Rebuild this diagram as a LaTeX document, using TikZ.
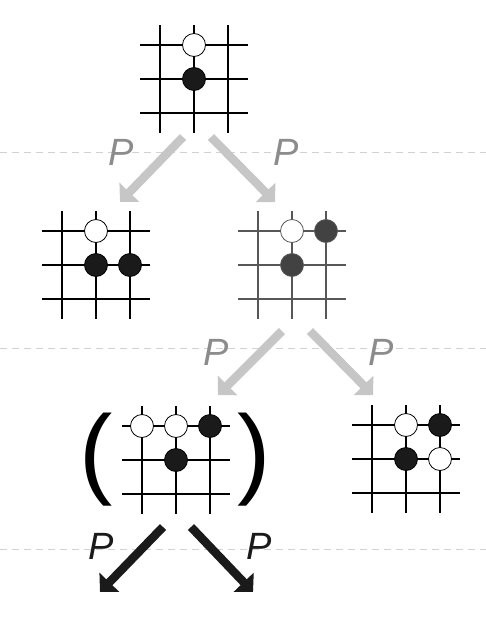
\documentclass[tikz,border=0pt]{standalone}
\usepackage{fontspec}
\setsansfont{Liberation Sans}
\usetikzlibrary{arrows.meta}

\definecolor{movegray}{HTML}{C6C6C6}
\definecolor{lblgray}{HTML}{8C8C8C}
\definecolor{sepgray}{HTML}{D2D2D2}
\definecolor{dimline}{HTML}{575757}
\definecolor{dimstone}{HTML}{424242}
\definecolor{stoneblack}{HTML}{1A1A1A}

\begin{document}
\begin{tikzpicture}[x=1pt, y=-1pt,
  board/.pic={
    \foreach \k in {-34,0,34} {
      \draw[line width=1.8pt] (-54,\k) -- (54,\k);
      \draw[line width=1.8pt] (\k,-54) -- (\k,54);
    }
  },
  wst/.style={circle, draw, fill=white, line width=0.8pt,
              minimum size=23pt, inner sep=0pt},
  bst/.style={circle, draw, fill=stoneblack, line width=0.8pt,
              minimum size=23pt, inner sep=0pt},
  gst/.style={bst, draw=dimline, fill=dimstone},
  gwst/.style={wst, draw=dimline},
  move/.style={draw=movegray, line width=8.5pt,
               -{Triangle[length=13.5pt,width=27pt]}},
  lastmove/.style={move, draw=stoneblack},
  lblP/.style={font=\fontsize{38}{38}\selectfont\sffamily\itshape,
               inner sep=0pt},
  sep/.style={draw=sepgray, line width=1pt, dash pattern=on 7pt off 5pt},
  paren/.style={font=\fontsize{100}{100}\selectfont\sffamily, inner sep=0pt}
]
  \useasboundingbox (0,0) rectangle (486,632);

  % separators
  \draw[sep] (0,152) -- (486,152);
  \draw[sep] (0,348) -- (486,348);
  \draw[sep] (0,549) -- (486,549);

  % boards
  \pic (root)  at (194,79)  {board};
  \pic (left)  at (96,265)  {board};
  \pic[dimline] (right) at (292,265) {board};
  \pic (cand)  at (176,460) {board};
  \pic (other) at (406,459) {board};

  % stones
  \node[wst]  (r1) at (194,45)  {};
  \node[bst]  (r2) at (194,79)  {};

  \node[wst]  (l1) at (96,231)  {};
  \node[bst]  (l2) at (96,265)  {};
  \node[bst]  (l3) at (130,265) {};

  \node[gwst] (m1) at (292,231) {};
  \node[gst]  (m2) at (326,231) {};
  \node[gst]  (m3) at (292,265) {};

  \node[wst]  (c1) at (142,426) {};
  \node[wst]  (c2) at (176,426) {};
  \node[bst]  (c3) at (210,426) {};
  \node[bst]  (c4) at (176,460) {};

  \node[wst]  (o1) at (406,425) {};
  \node[bst]  (o2) at (440,425) {};
  \node[bst]  (o3) at (406,459) {};
  \node[wst]  (o4) at (440,459) {};

  \node[paren] (lp) at (96,460)  {(};
  \node[paren] (rp) at (254,460) {)};

  % moves
  \coordinate (rootL) at (183,137);
  \coordinate (rootR) at (211,137);
  \coordinate (toL)   at (120,202);
  \coordinate (toR)   at (275,202);
  \draw[move] (rootL) -- (toL);
  \draw[move] (rootR) -- (toR);

  \coordinate (rightL) at (282,331);
  \coordinate (rightR) at (310,331);
  \coordinate (toC)    at (218,395);
  \coordinate (toO)    at (373,395);
  \draw[move] (rightL) -- (toC);
  \draw[move] (rightR) -- (toO);

  \coordinate (candL) at (163,527);
  \coordinate (candR) at (191,527);
  \coordinate (outL)  at (100,592);
  \coordinate (outR)  at (253,592);
  \draw[lastmove] (candL) -- (outL);
  \draw[lastmove] (candR) -- (outR);

  % labels
  \node[lblP, text=lblgray] (p1) at (121,152) {P};
  \node[lblP, text=lblgray] (p2) at (286,152) {P};
  \node[lblP, text=lblgray] (p3) at (216,352) {P};
  \node[lblP, text=lblgray] (p4) at (381,352) {P};
  \node[lblP, text=stoneblack] (p5) at (101,546) {P};
  \node[lblP, text=stoneblack] (p6) at (259,546) {P};
\end{tikzpicture}
\end{document}
